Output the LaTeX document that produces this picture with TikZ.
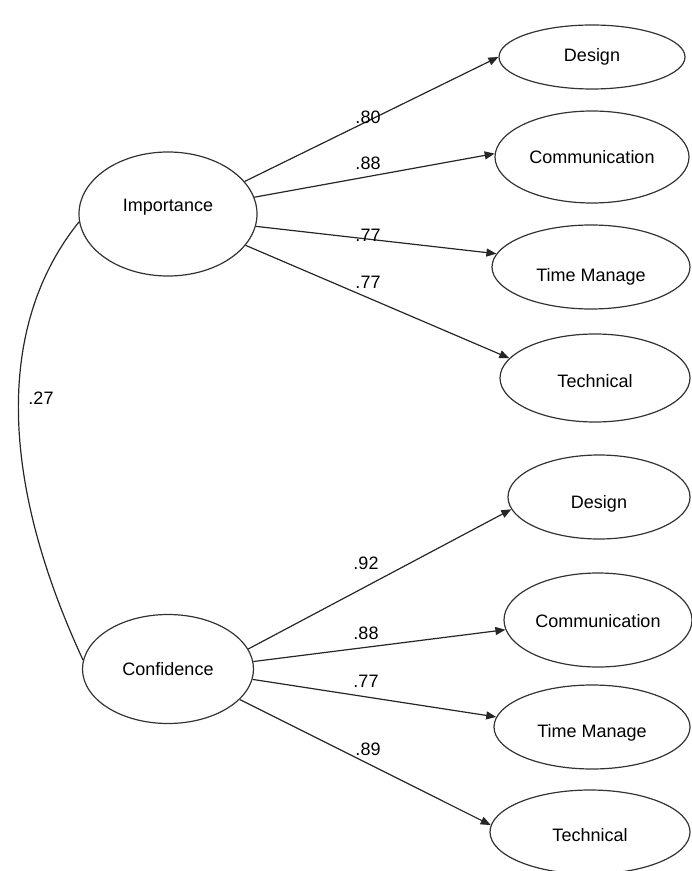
\documentclass[tikz,border=0pt]{standalone}
\usepackage{fontspec}
\setmainfont{Liberation Sans}
\usetikzlibrary{shapes.geometric,arrows.meta}

\tikzset{
	latent/.style={ellipse,draw=black!80,line width=0.6pt,inner sep=0pt,font=\fontsize{9}{10}\selectfont},
	lower/.style={text height=#1,text depth=1.9pt},
	loadarrow/.style={draw=black!85,line width=0.6pt,-{Triangle[length=5pt,width=4pt]}},
	coef/.style={font=\fontsize{9}{10}\selectfont,inner sep=1pt}
}

\begin{document}
\begin{tikzpicture}[x=0.5pt,y=-0.5pt]
		\useasboundingbox (0,0) rectangle (691,871);
		
		% Factors
		\node[latent,minimum width=89pt,minimum height=62pt,text height=6.6pt,text depth=8.9pt] (imp) at (168,214) {Importance};
		\node[latent,minimum width=85.5pt,minimum height=54.5pt] (conf) at (168,669) {Confidence};
		
		% Indicators of Importance
		\node[latent,minimum width=93pt,minimum height=32pt] (dsgA) at (592,57) {Design};
		\node[latent,minimum width=97pt,minimum height=46pt,lower=8.6pt] (comA) at (592,157) {Communication};
		\node[latent,minimum width=99pt,minimum height=42pt,lower=16.6pt] (timA) at (591,267) {Time Manage};
		\node[latent,minimum width=95pt,minimum height=44pt,lower=11.6pt] (tecA) at (595,378) {Technical};
		
		% Indicators of Confidence
		\node[latent,minimum width=91pt,minimum height=42pt,lower=13.6pt] (dsgB) at (599,497) {Design};
		\node[latent,minimum width=94pt,minimum height=47pt,lower=9.6pt] (comB) at (598,620) {Communication};
		\node[latent,minimum width=98pt,minimum height=42pt,lower=12.6pt] (timB) at (592,727) {Time Manage};
		\node[latent,minimum width=100pt,minimum height=42pt,lower=11.6pt] (tecB) at (590,832) {Technical};
		
		% Loadings
		\draw[loadarrow] (imp.23) -- (dsgA.west);
		\draw[loadarrow] (imp.11) -- (comA.178);
		\draw[loadarrow] (imp.352) -- (timA.172);
		\draw[loadarrow] (imp.338) -- (tecA.167);
		\draw[loadarrow] (conf.14) -- (dsgB.188);
		\draw[loadarrow] (conf.5) -- (comB.186);
		\draw[loadarrow] (conf.353) -- (timB.174);
		\draw[loadarrow] (conf.337) -- (tecB.176);
		
		\node[coef] (lA1) at (368,117) {.80};
		\node[coef] (lA2) at (368,163) {.88};
		\node[coef] (lA3) at (368,235) {.77};
		\node[coef] (lA4) at (368,282) {.77};
		\node[coef] (lB1) at (366,563) {.92};
		\node[coef] (lB2) at (366,633) {.88};
		\node[coef] (lB3) at (366,681) {.77};
		\node[coef] (lB4) at (368,749) {.89};
		
		% Correlation
		\draw[draw=black!85,line width=0.6pt] (imp.185) .. controls (0,320) and (-5,470) .. (conf.174);
		\node[coef] (corr) at (41,398) {.27};
	\end{tikzpicture}
\end{document}
